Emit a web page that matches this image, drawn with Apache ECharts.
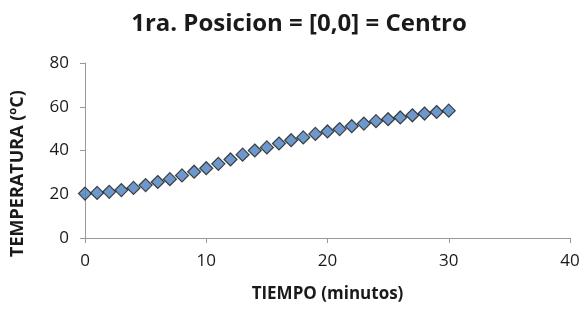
<!DOCTYPE html>
<html>
<head>
<meta charset="utf-8">
<script src="https://cdn.jsdelivr.net/npm/echarts@6/dist/echarts.min.js"></script>
<style>
  html, body { margin: 0; padding: 0; background: #fff; }
  #chart { width: 586px; height: 311px; }
</style>
</head>
<body>
<div id="chart"></div>
<script>
// datos
var tiempo = [0, 1, 2, 3, 4, 5, 6, 7, 8, 9, 10, 11, 12, 13, 14, 15, 16, 17, 18, 19, 20,
    21, 22, 23, 24, 25, 26, 27, 28, 29, 30];
var temperatura = [20.3, 20.6, 21.1, 21.9, 22.9, 24.2, 25.6, 26.9, 28.6, 30.3, 31.9,
    33.9, 35.9, 38.1, 40.0, 41.4, 43.2, 44.7, 46.0, 47.6, 48.7, 49.8, 51.1, 52.3,
    53.4, 54.3, 55.1, 56.1, 56.9, 57.6, 58.2];

var puntos = [];
for (var i = 0; i < tiempo.length; i++) {
    puntos.push([tiempo[i], temperatura[i]]);
}

var chart = echarts.init(document.getElementById('chart'));
var fuente = 'Open Sans';

var option = {
    backgroundColor: '#ffffff',
    animation: false,
    title: {
        text: '1ra. Posicion = [0,0] = Centro',
        left: 294,
        textAlign: 'center',
        top: 7,
        textStyle: {
            fontFamily: fuente,
            fontSize: 24,
            fontWeight: 'bold',
            color: '#1a1a1a'
        }
    },
    grid: {
        left: 85,
        right: 16,
        top: 63,
        bottom: 73,
        containLabel: false
    },
    xAxis: {
        type: 'value',
        min: 0,
        max: 40,
        interval: 10,
        name: 'TIEMPO (minutos)',
        nameLocation: 'middle',
        nameGap: 48,
        nameTextStyle: {
            fontFamily: fuente,
            fontSize: 17,
            fontWeight: 'bold',
            color: '#1a1a1a'
        },
        axisLine: { lineStyle: { color: '#999999', width: 1 } },
        axisTick: { show: true, length: 5, lineStyle: { color: '#999999' } },
        axisLabel: {
            margin: 15,
            fontFamily: fuente,
            fontSize: 17,
            color: '#1a1a1a'
        },
        splitLine: { show: false }
    },
    yAxis: {
        type: 'value',
        min: 0,
        max: 80,
        interval: 20,
        name: 'TEMPERATURA (ºC)',
        nameLocation: 'middle',
        nameGap: 58,
        nameRotate: 90,
        nameTextStyle: {
            fontFamily: fuente,
            fontSize: 18,
            fontWeight: 'bold',
            color: '#1a1a1a',
            // bajar el titulo del eje como en el original
            padding: [0, 46, 0, 0]
        },
        axisLine: { show: true, lineStyle: { color: '#999999', width: 1 } },
        axisTick: { show: true, length: 5, lineStyle: { color: '#999999' } },
        axisLabel: {
            margin: 16,
            fontFamily: fuente,
            fontSize: 17,
            color: '#1a1a1a'
        },
        splitLine: { show: false }
    },
    series: [{
        type: 'scatter',
        data: puntos,
        symbol: 'diamond',
        symbolSize: 13,
        itemStyle: {
            color: '#4a7ebb',
            borderColor: '#1c1c1c',
            borderWidth: 1.2
        }
    }]
};
chart.setOption(option);
</script>
</body>
</html>
